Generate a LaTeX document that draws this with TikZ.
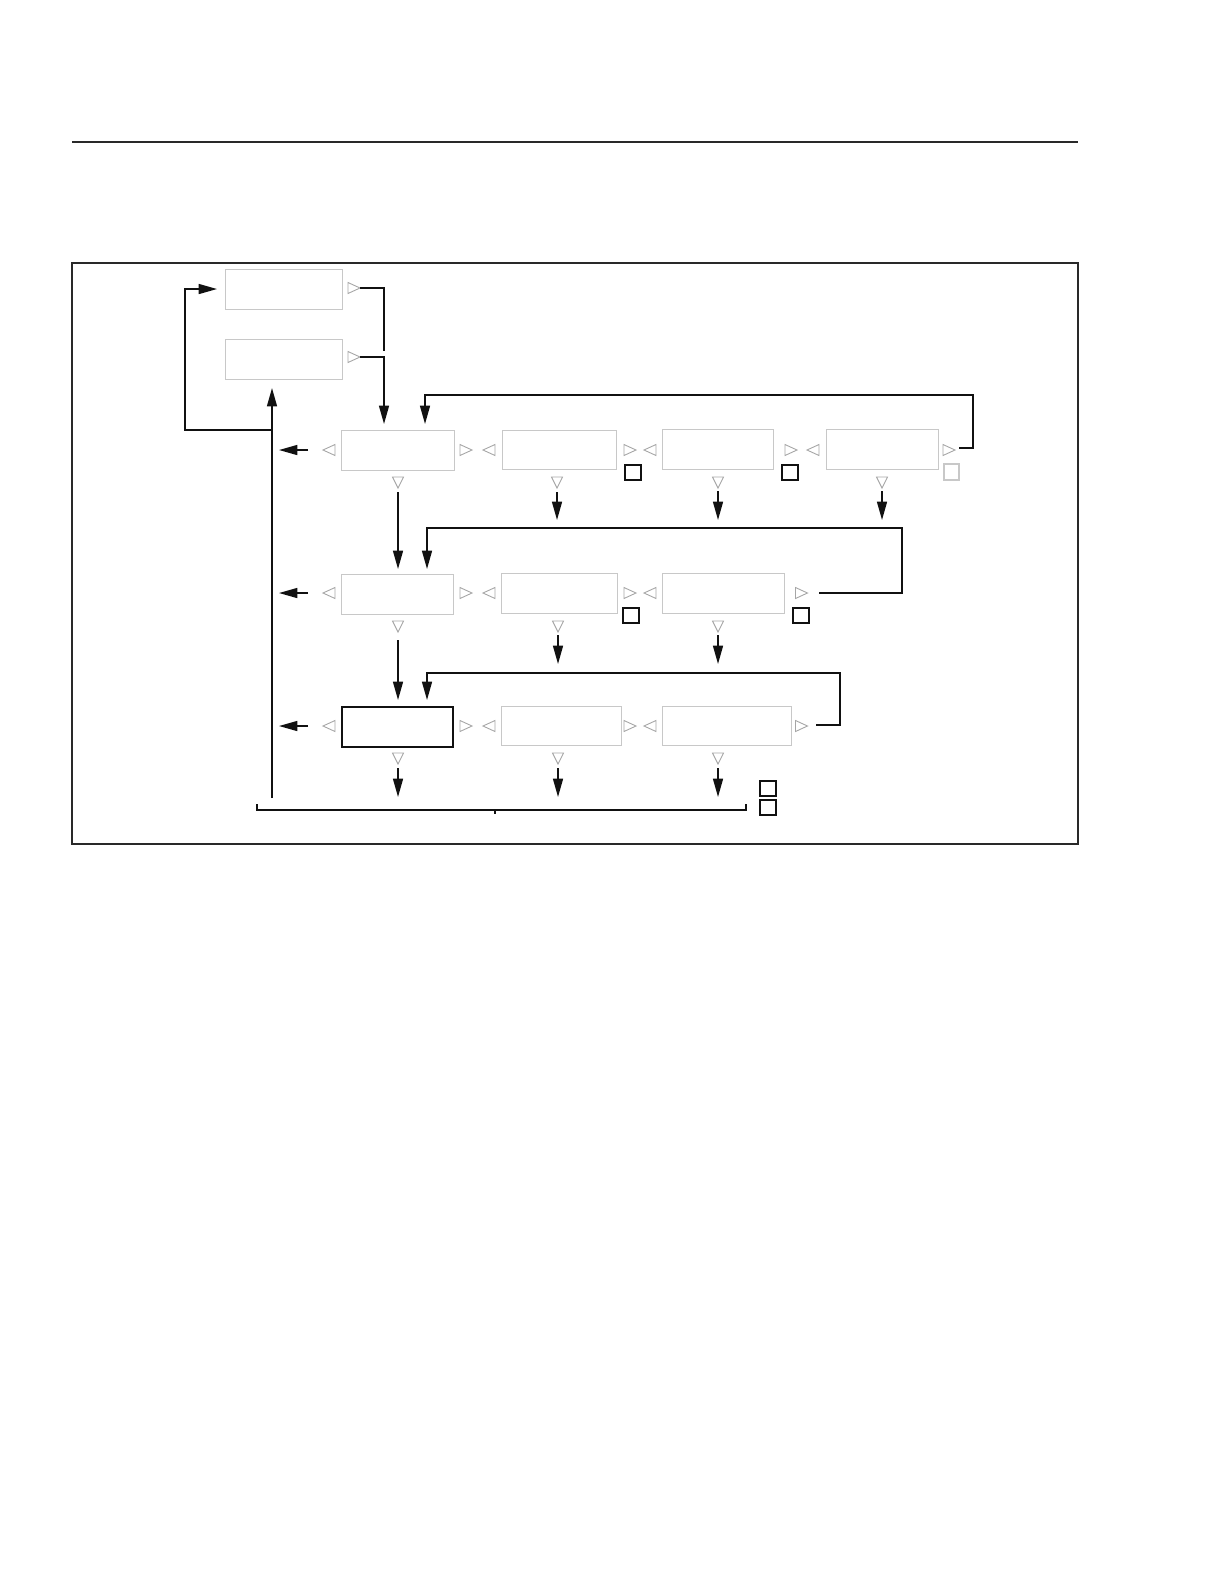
\documentclass[tikz,border=0pt]{standalone}
\usetikzlibrary{arrows.meta}
\definecolor{boxgray}{HTML}{C8C8C8}
\definecolor{trigray}{HTML}{A6A6A6}
\definecolor{ink}{HTML}{111111}
\newcommand\mkbox[6]{\node[#6, minimum width={(#4-#2)*0.5pt}, minimum height={(#5-#3)*0.5pt}] (#1) at ({(#2+#4)/2},{(#3+#5)/2}) {};}
\begin{document}
\begin{tikzpicture}[x=0.5pt,y=-0.5pt,
  gbox/.style={draw=boxgray,line width=0.45pt,inner sep=0pt,outer sep=0pt},
  kbox/.style={draw=ink,line width=0.8pt,inner sep=0pt,outer sep=0pt},
  ksq/.style={draw=ink,line width=0.7pt,inner sep=0pt,outer sep=0pt},
  gsq/.style={draw=boxgray,line width=0.55pt,inner sep=0pt,outer sep=0pt},
  tri/.style={draw=trigray,line width=0.45pt,line join=miter},
  conn/.style={draw=ink,line width=0.75pt},
  arr/.style={conn,-{Triangle[length=9.2pt,width=5pt]}},
  frm/.style={draw=ink!90,line width=0.85pt},
  rt/.pic={\draw[tri] (-6,-5.5)--(6,0)--(-6,5.5)--cycle;},
  lt/.pic={\draw[tri] (6,-5.5)--(-6,0)--(6,5.5)--cycle;},
  dt/.pic={\draw[tri] (-5.5,-5.5)--(5.5,-5.5)--(0,5.5)--cycle;}]
\useasboundingbox (0,0) rectangle (1221,1581);
% header rule and frame
\draw[frm] (72,142) -- (1078,142);
\draw[frm] (72,263) rectangle (1078,844);
% boxes
\mkbox{bA}{225}{269}{342}{309}{gbox}
\mkbox{bB}{225}{339}{342}{379}{gbox}
\mkbox{r1c1}{341}{430}{454}{470}{gbox}
\mkbox{r1c2}{502}{430}{616}{469}{gbox}
\mkbox{r1c3}{662}{429}{773}{469}{gbox}
\mkbox{r1c4}{826}{429}{938}{469}{gbox}
\mkbox{r2c1}{341}{574}{453}{614}{gbox}
\mkbox{r2c2}{501}{573}{617}{613}{gbox}
\mkbox{r2c3}{662}{573}{784}{613}{gbox}
\mkbox{r3c1}{342}{707}{453}{747}{kbox}
\mkbox{r3c2}{501}{706}{621}{745}{gbox}
\mkbox{r3c3}{662}{706}{791}{745}{gbox}
% small squares
\mkbox{s1}{625}{465}{641}{480}{ksq}
\mkbox{s2}{782}{465}{798}{480}{ksq}
\mkbox{s3}{944}{464}{959}{480}{gsq}
\mkbox{s4}{623}{608}{639}{623}{ksq}
\mkbox{s5}{793}{608}{809}{623}{ksq}
\mkbox{s6}{760}{781}{776}{796}{ksq}
\mkbox{s7}{760}{800}{776}{815}{ksq}
% triangles
\pic at (354,288) {rt};
\pic at (354,357) {rt};
\foreach \x in {329,489,650,813} \pic at (\x,450) {lt};
\foreach \x in {466,630,791,949} \pic at (\x,450) {rt};
\foreach \x in {398,557,718,882} \pic at (\x,482.5) {dt};
\foreach \x in {329,489,650} \pic at (\x,593) {lt};
\foreach \x in {466,630,801.5} \pic at (\x,593) {rt};
\foreach \x in {398,558,718} \pic at (\x,626.5) {dt};
\foreach \x in {329,489,650} \pic at (\x,726) {lt};
\foreach \x in {466,630,801.5} \pic at (\x,726) {rt};
\foreach \x in {398,558,718} \pic at (\x,758.5) {dt};
% connector end points
\coordinate (oA) at (360,288);
\coordinate (oB) at (360,357);
\coordinate (jA) at (384,351);
\coordinate (i1a) at (384,424);
\coordinate (o14) at (959,448);
\coordinate (i1b) at (425,424);
\coordinate (o23) at (819,593);
\coordinate (i2b) at (427,569);
\coordinate (o33) at (816,725);
\coordinate (i3b) at (427,700);
% connectors
\draw[conn] (oA) -| (jA);
\draw[arr] (oB) -| (i1a);
\draw[arr] (o14) -- (973,448) |- (425,395) -- (i1b);
\draw[arr] (o23) -- (902,593) |- (427,528) -- (i2b);
\draw[arr] (o33) -- (840,725) |- (427,673) -- (i3b);
% downward arrows
\draw[arr] (398,492) -- (398,569);
\draw[arr] (557,492) -- (557,520);
\draw[arr] (718,491) -- (718,520);
\draw[arr] (882,491) -- (882,520);
\draw[arr] (398,640) -- (398,700);
\draw[arr] (558,635) -- (558,664);
\draw[arr] (718,635) -- (718,664);
\draw[arr] (398,768) -- (398,797);
\draw[arr] (558,768) -- (558,797);
\draw[arr] (718,768) -- (718,797);
% left arrows
\draw[arr] (308,450) -- (279,450);
\draw[arr] (308,593) -- (279,593);
\draw[arr] (308,726) -- (279,726);
% return path
\draw[arr] (272,798) -- (272,388);
\draw[arr] (272,430) -| (185,289) -- (217,289);
% bracket
\draw[conn] (257,804) -- (257,810) -- (746,810) -- (746,804);
\draw[conn] (495,810) -- (495,814);
\end{tikzpicture}
\end{document}
